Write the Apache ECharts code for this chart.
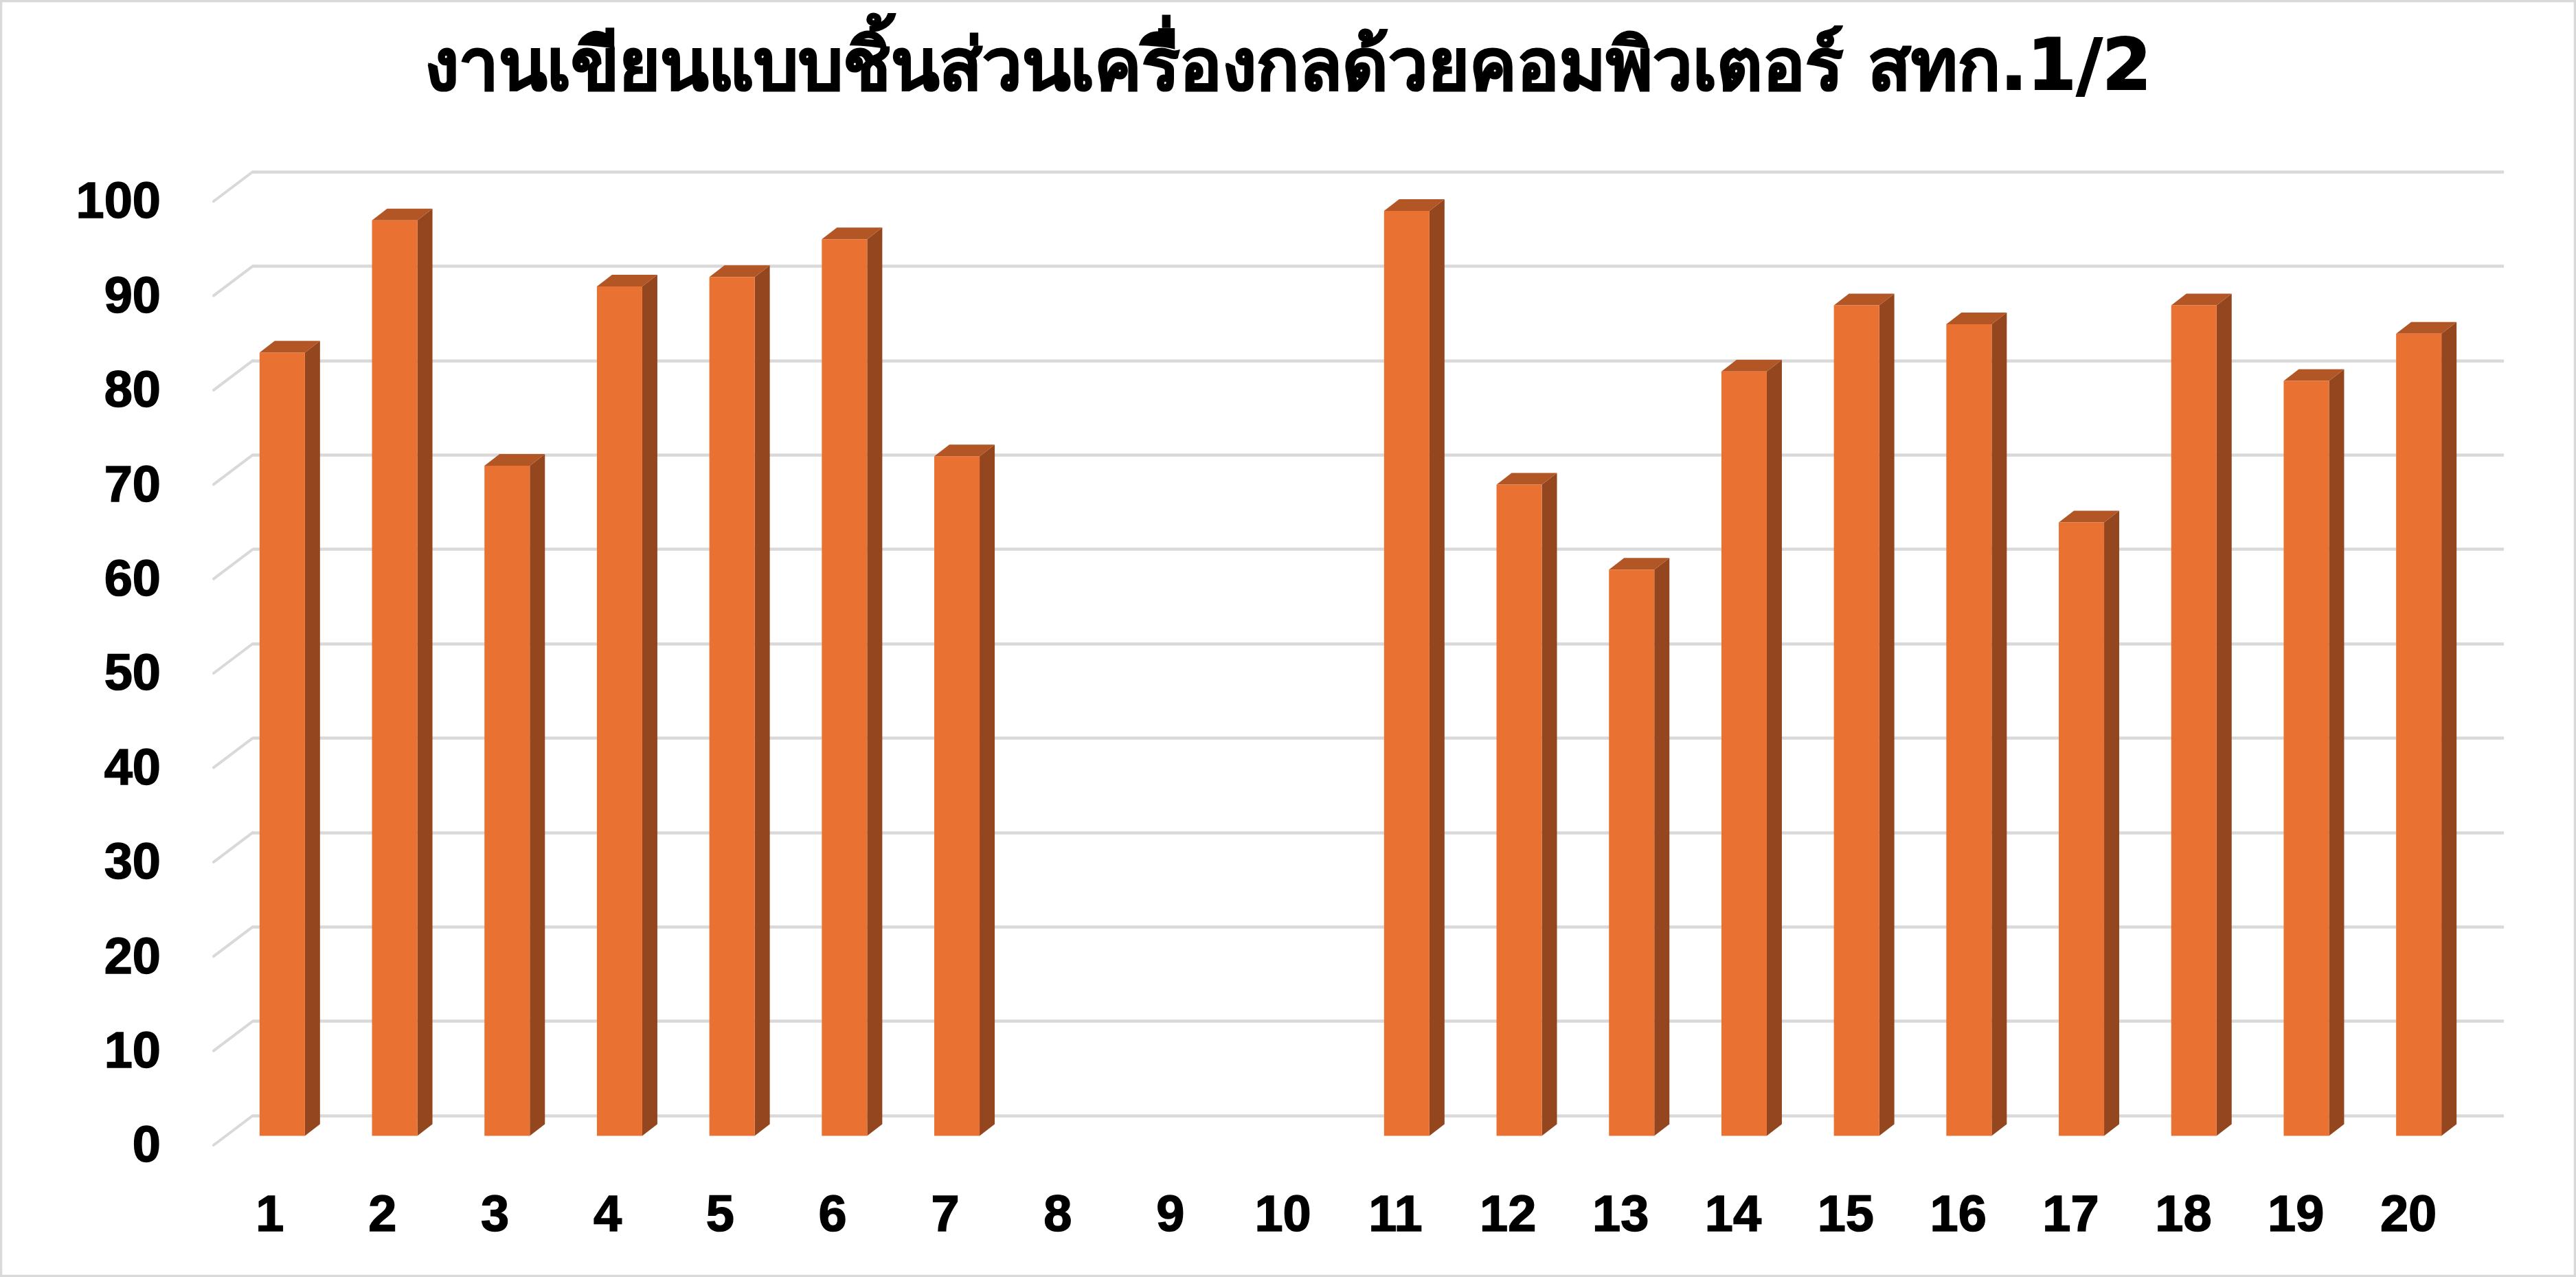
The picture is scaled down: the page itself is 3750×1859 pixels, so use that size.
<!DOCTYPE html>
<html>
<head>
<meta charset="utf-8">
<style>html,body{margin:0;padding:0;background:#fff}#c{width:3750px;height:1859px}</style>
<script src="https://cdn.jsdelivr.net/npm/echarts@6/dist/echarts.min.js"></script>
</head>
<body>
<div id="c"></div>
<script>
var titleText = 'งานเขียนแบบชิ้นส่วนเครื่องกลด้วยคอมพิวเตอร์ สทก.1/2';
var categories = ['1','2','3','4','5','6','7','8','9','10','11','12','13','14','15','16','17','18','19','20'];
var scores = [83,97,71,90,91,95,72,null,null,null,98,69,60,81,88,86,65,88,80,85];
var tickValues = [0,10,20,30,40,50,60,70,80,90,100];

var FONT = '"Liberation Sans", Arial, sans-serif';
var GRID = '#D9D9D9';
var FRONT = '#E97132', SIDE = '#94461F', TOP = '#B25625';
var H = 1374;
var DX = 22, DY = 17, BAR_W = 66;

function cat(idx, show, margin) {
  return {
    type: 'category', gridIndex: idx, data: categories,
    axisLine: {show: false}, axisTick: {show: false}, splitLine: {show: false},
    axisLabel: {show: show, margin: margin, fontFamily: FONT, fontWeight: 'bold', fontSize: 74, color: '#000', textBorderColor: '#000', textBorderWidth: 1.5, interval: 0}
  };
}
function val(idx, showLabel, showSplit) {
  return {
    type: 'value', gridIndex: idx, min: 0, max: 100, interval: 10,
    axisLine: {show: false}, axisTick: {show: false},
    axisLabel: {show: showLabel, margin: 77, fontFamily: FONT, fontWeight: 'bold', fontSize: 74, color: '#000', textBorderColor: '#000', textBorderWidth: 1.5},
    splitLine: {show: showSplit, lineStyle: {color: GRID, width: 4.5}}
  };
}

var chart = echarts.init(document.getElementById('c'), null, {renderer: 'canvas'});
chart.setOption({
  animation: false,
  backgroundColor: '#fff',
  title: {
    text: titleText, left: 'center', top: 47,
    textStyle: {fontFamily: '"DejaVu Sans", sans-serif', fontWeight: 'bold', fontSize: 103, color: '#000', textBorderColor: '#000', textBorderWidth: 2}
  },
  graphic: [{
    type: 'rect', silent: true, z: -1,
    shape: {x: 1.5, y: 1.5, width: 3747, height: 1856},
    style: {fill: 'none', stroke: GRID, lineWidth: 3.5}
  }],
  grid: [
    {left: 368, top: 250, width: 3277, height: H},
    {left: 329, top: 279.6, width: 3274, height: H},
    {left: 311, top: 297, width: 3277, height: H}
  ],
  xAxis: [cat(0, false, 0), cat(1, false, 0), cat(2, true, 64)],
  yAxis: [val(0, false, true), val(1, false, false), val(2, true, false)],
  series: [
    {
      type: 'custom', xAxisIndex: 0, yAxisIndex: 0, clip: false, z: 1,
      data: tickValues.map(function (v) { return [0, v]; }),
      renderItem: function (params, api) {
        var y = api.coord([0, api.value(1)])[1];
        var x = params.coordSys.x;
        return {
          type: 'line',
          shape: {x1: x, y1: y, x2: x - 57, y2: y + 43},
          style: {stroke: GRID, lineWidth: 4, lineCap: 'round'}
        };
      }
    },
    {
      type: 'custom', xAxisIndex: 1, yAxisIndex: 1, clip: false, z: 3,
      data: scores.map(function (v, i) { return [i, v]; }),
      renderItem: function (params, api) {
        if (api.value(1) == null || isNaN(api.value(1))) return null;
        var top = api.coord([api.value(0), api.value(1)]);
        var base = api.coord([api.value(0), 0]);
        var x0 = top[0] - BAR_W / 2, x1 = top[0] + BAR_W / 2, yt = top[1], yb = base[1];
        return {
          type: 'group',
          children: [
            {type: 'polygon', shape: {points: [[x1, yt], [x1 + DX, yt - DY], [x1 + DX, yb - DY], [x1, yb]]}, style: {fill: SIDE}},
            {type: 'polygon', shape: {points: [[x0, yt], [x0 + DX, yt - DY], [x1 + DX, yt - DY], [x1, yt]]}, style: {fill: TOP}},
            {type: 'rect', shape: {x: x0, y: yt, width: BAR_W, height: yb - yt}, style: {fill: FRONT}}
          ]
        };
      }
    }
  ]
});
</script>
</body>
</html>
